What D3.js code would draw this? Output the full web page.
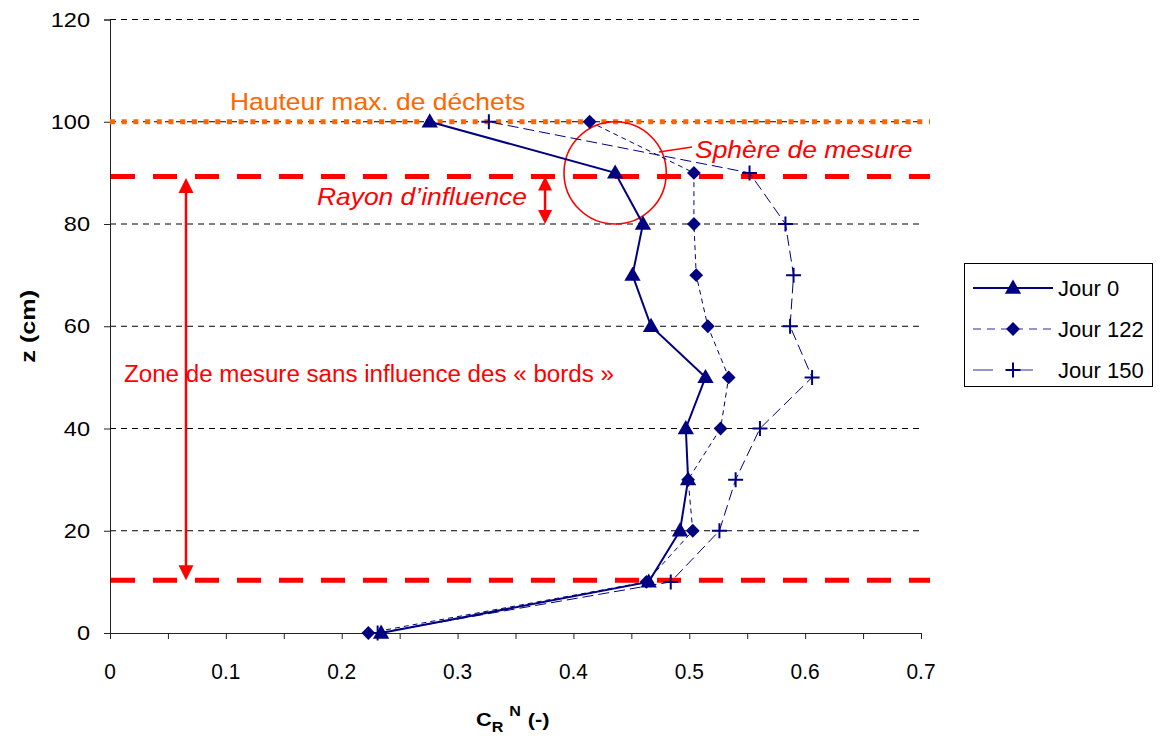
<!DOCTYPE html>
<html><head><meta charset="utf-8">
<script src="https://cdn.jsdelivr.net/npm/d3@7"></script>
<style>body{margin:0;background:#fff}svg{display:block;font-family:"Liberation Sans",Arial,sans-serif}</style>
</head><body>
<script>
// ---- data ----
const zLevels = [0, 10, 20, 30, 40, 50, 60, 70, 80, 90, 100];
const jour0   = [0.234, 0.465, 0.492, 0.499, 0.497, 0.514, 0.467, 0.451, 0.460, 0.436, 0.276];
const jour122 = [0.223, 0.463, 0.503, 0.499, 0.527, 0.534, 0.516, 0.506, 0.504, 0.504, 0.414];
const jour150 = [0.231, 0.484, 0.526, 0.540, 0.561, 0.606, 0.587, 0.590, 0.583, 0.552, 0.327];
const seriesNames = ["Jour 0", "Jour 122", "Jour 150"];
const xTicks = [0, 0.1, 0.2, 0.3, 0.4, 0.5, 0.6, 0.7];
const yTicks = [0, 20, 40, 60, 80, 100, 120];
const maxHeight = 100;        // Hauteur max. de déchets
const zoneTop = 89.3, zoneBottom = 10.3;
const influenceRadius = 10;   // cm
const sphereCentre = [0.436, 90];

const W = 1160, H = 736;
const svg = d3.select("body").append("svg").attr("width", W).attr("height", H);
const x = d3.scaleLinear().domain([0, 0.7]).range([110, 921]);
const y = d3.scaleLinear().domain([0, 120]).range([633, 19.5]);
const navy = "#000080", red = "#ff0000", orange = "#ff6600";

function txt(g, px, py, s, o) {
  const t = g.append("text")
    .attr("transform", `translate(${px},${py})${o.rot ? ` rotate(${o.rot})` : ""} scale(${o.sx || 1},1)`)
    .attr("font-size", o.size).attr("fill", o.fill || "#000")
    .attr("text-anchor", o.anchor || "start");
  if (o.weight) t.attr("font-weight", o.weight);
  if (o.italic) t.attr("font-style", "italic");
  t.text(s);
  return t;
}

// gridlines
svg.append("g").selectAll("line").data(yTicks.filter(d => d > 0)).join("line")
  .attr("x1", x(0)).attr("x2", x(0.7)).attr("y1", d => y(d)).attr("y2", d => y(d))
  .attr("stroke", "#000").attr("stroke-width", 1).attr("stroke-dasharray", "6,5");

// axes
const xAxis = d3.axisBottom(x).tickValues(d3.range(0, 0.7001, 0.05)).tickSize(6).tickFormat("");
const gx = svg.append("g").attr("transform", `translate(0,${y(0)})`).call(xAxis);
gx.select(".domain").attr("stroke", "#222");
gx.selectAll(".tick line").attr("stroke", "#222");
const yAxis = d3.axisLeft(y).tickValues(yTicks).tickSize(6).tickFormat("");
const gy = svg.append("g").attr("transform", `translate(${x(0)},0)`).call(yAxis);
gy.select(".domain").attr("stroke", "#222");
gy.selectAll(".tick line").attr("stroke", "#222");

yTicks.forEach(v => txt(svg, 90, y(v) + 7, String(v), {size: 20.5, sx: 1.15, anchor: "end"}));
xTicks.forEach(v => txt(svg, x(v), 679, String(v), {size: 22, sx: 0.95, anchor: "middle"}));

// axis titles
txt(svg, 35, y(60), "z (cm)", {size: 21, sx: 1.2, anchor: "middle", weight: "bold", rot: -90});
const xl = svg.append("text").attr("transform", "translate(476,726) scale(1.15,1)")
  .attr("font-size", 19).attr("font-weight", "bold");
xl.append("tspan").text("C");
xl.append("tspan").attr("font-size", 14).attr("dy", 6).text("R");
xl.append("tspan").attr("font-size", 14).attr("dx", 5).attr("dy", -16).text("N");
xl.append("tspan").attr("font-size", 19).attr("dx", 6).attr("dy", 10).text("(-)");

// annotation lines
svg.append("line").attr("x1", x(0)).attr("x2", x(0.7) + 9).attr("y1", y(maxHeight)).attr("y2", y(maxHeight))
  .attr("stroke", orange).attr("stroke-width", 5).attr("stroke-dasharray", "5,6.7");
[zoneTop, zoneBottom].forEach(z => svg.append("line")
  .attr("x1", x(0) + 1).attr("x2", x(0.7) + 9).attr("y1", y(z)).attr("y2", y(z))
  .attr("stroke", red).attr("stroke-width", 5).attr("stroke-dasharray", "24,18"));

// double arrows
function dArrow(xv, z1, z2, head, half) {
  const px = x(xv), a = y(z1), b = y(z2);
  svg.append("line").attr("x1", px).attr("x2", px).attr("y1", a + head - 2).attr("y2", b - head + 2)
    .attr("stroke", red).attr("stroke-width", 2.5);
  svg.append("path").attr("d", `M${px},${a}L${px - half},${a + head}L${px + half},${a + head}Z`).attr("fill", red);
  svg.append("path").attr("d", `M${px},${b}L${px - half},${b - head}L${px + half},${b - head}Z`).attr("fill", red);
}
dArrow(0.0656, zoneTop - 0.3, zoneBottom, 15, 7.5);
dArrow(0.3755, zoneTop, 80, 14, 7);

// sphere circle
const cr = y(sphereCentre[1] - influenceRadius) - y(sphereCentre[1]);
svg.append("circle").attr("cx", x(sphereCentre[0])).attr("cy", y(sphereCentre[1])).attr("r", cr)
  .attr("fill", "none").attr("stroke", red).attr("stroke-width", 1.6);
svg.append("line").attr("x1", 659).attr("y1", 152).attr("x2", 692).attr("y2", 147)
  .attr("stroke", red).attr("stroke-width", 1.6);

// annotation texts
txt(svg, 230, 110, "Hauteur max. de déchets", {size: 23, sx: 1.15, fill: orange});
txt(svg, 695, 158, "Sphère de mesure", {size: 23, sx: 1.15, fill: red, italic: true});
txt(svg, 527, 205, "Rayon d\u2019influence", {size: 23, sx: 1.15, fill: red, italic: true, anchor: "end"});
txt(svg, 124, 382, "Zone de mesure sans influence des \u00ab bords \u00bb", {size: 23, sx: 1.05, fill: red});

// series
const series = [
  {name: seriesNames[0], vals: jour0, width: 2, dash: null, marker: "tri"},
  {name: seriesNames[1], vals: jour122, width: 1, dash: "5,4", marker: "dia"},
  {name: seriesNames[2], vals: jour150, width: 1, dash: "11,5", marker: "plus"}
];
const line = d3.line().x(d => x(d[0])).y(d => y(d[1]));
function marker(g, m, px, py) {
  if (m === "tri") g.append("path").attr("d", d3.symbol(d3.symbolTriangle, 115)()).attr("transform", `translate(${px},${py + 1})`).attr("fill", navy);
  else if (m === "dia") g.append("path").attr("d", d3.symbol(d3.symbolSquare, 95)()).attr("transform", `translate(${px},${py}) rotate(45)`).attr("fill", navy);
  else g.append("path").attr("d", "M-7.5,0H7.5M0,-7.5V7.5").attr("transform", `translate(${px},${py})`).attr("stroke", navy).attr("stroke-width", 2).attr("fill", "none");
}
series.slice().reverse().forEach(s => {
  const pts = s.vals.map((v, i) => [v, zLevels[i]]);
  const p = svg.append("path").attr("d", line(pts)).attr("fill", "none").attr("stroke", navy).attr("stroke-width", s.width);
  if (s.dash) p.attr("stroke-dasharray", s.dash);
  pts.forEach(d => marker(svg, s.marker, x(d[0]), y(d[1])));
});

// legend
const lg = svg.append("g");
lg.append("rect").attr("x", 964.5).attr("y", 263.5).attr("width", 188).attr("height", 123)
  .attr("fill", "#fff").attr("stroke", "#000").attr("stroke-width", 1);
series.forEach((s, i) => {
  const ly = 288 + i * 41;
  const l = lg.append("line").attr("x1", 973).attr("x2", 1053).attr("y1", ly).attr("y2", ly)
    .attr("stroke", navy).attr("stroke-width", s.width);
  if (s.dash) l.attr("stroke-dasharray", i === 1 ? "8,6" : "20,20").attr("stroke-opacity", 0.55).attr("stroke-width", 1.5);
  marker(lg, s.marker, 1013, ly);
  txt(lg, 1058, ly + 8, s.name, {size: 22, sx: 1.0});
});
</script>
</body></html>
